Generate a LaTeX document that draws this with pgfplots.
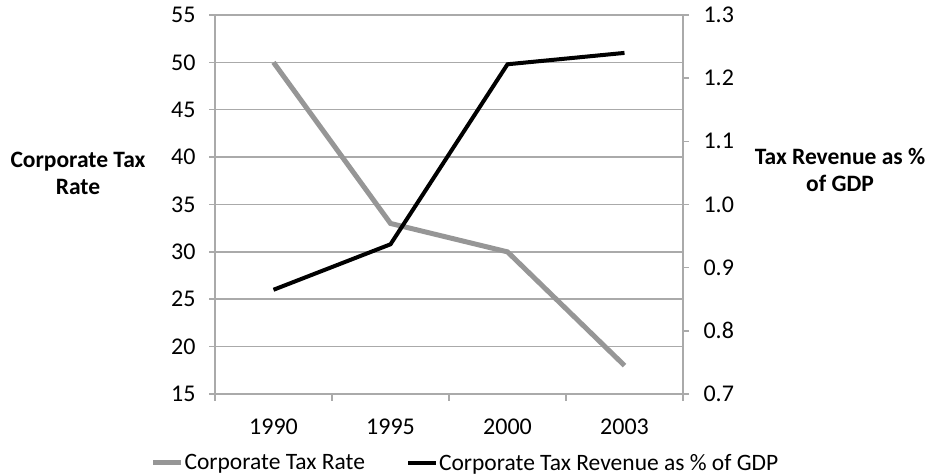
\documentclass[border=0pt]{standalone}
\usepackage{pgfplots}
\pgfplotsset{compat=1.18}
\usepackage{fontspec}
\setmainfont{Carlito}
\definecolor{gline}{RGB}{150,150,150}
\definecolor{gaxis}{RGB}{170,170,170}
\begin{document}
\begin{tikzpicture}[x=1pt,y=1pt]
\useasboundingbox (0,0) rectangle (928,476);
\pgfplotsset{
  common/.style={
    at={(215pt,82pt)}, anchor=south west,
    scale only axis, width=468pt, height=379pt,
    xmin=-0.5, xmax=3.5,
    axis line style={gaxis, line width=1.5pt},
    tick style={gaxis, line width=1.5pt},
    tick align=outside,
    major tick length=6pt,
    minor tick length=7pt,
    tick label style={font=\fontsize{24}{28}\selectfont},
    /pgf/number format/assume math mode=true,
  }
}
\begin{axis}[common,
  ymin=15, ymax=55, ytick={15,20,...,55},
  axis x line*=bottom, axis y line*=left,
  xtick={0,1,2,3}, xticklabels={1990,1995,2000,2003},
  minor xtick={-0.5,0.5,1.5,2.5,3.5},
  major x tick style={draw=none},
  ymajorgrids, grid style={gaxis, line width=1.5pt},
  yticklabel style={xshift=-10pt},
  xticklabel style={yshift=-15pt},
]
\addplot[gline, line width=5pt, mark=none] coordinates {(0,50) (1,33) (2,30) (3,18)};
\end{axis}
\begin{axis}[common,
  ymin=0.7, ymax=1.3, ytick={0.7,0.8,...,1.3},
  axis x line=none, axis y line*=right,
  yticklabel style={/pgf/number format/.cd, fixed, fixed zerofill, precision=1, /tikz/.cd, xshift=11pt},
  legend columns=2,
  legend style={draw=none, fill=none, at={(0.534,-0.182)}, anchor=center,
    font=\fontsize{23.5}{28}\selectfont,
    nodes={inner sep=1pt},
    /tikz/every even column/.append style={column sep=40pt}},
  legend image code/.code={\draw[#1] (0pt,0pt) -- (28pt,0pt);},
]
\addlegendimage{gline, line width=5pt}
\addlegendentry{Corporate Tax Rate}
\addplot[black, line width=4pt, mark=none] coordinates {(0,0.865) (1,0.937) (2,1.222) (3,1.240)};
\addlegendentry{Corporate Tax Revenue as \% of GDP}
\end{axis}
\node[align=center, font=\bfseries\fontsize{23.5}{27}\selectfont] at (78,303) {Corporate Tax\\Rate};
\node[align=center, font=\bfseries\fontsize{23.5}{27}\selectfont] at (840,306) {Tax Revenue as \%\\of GDP};
\end{tikzpicture}
\end{document}
